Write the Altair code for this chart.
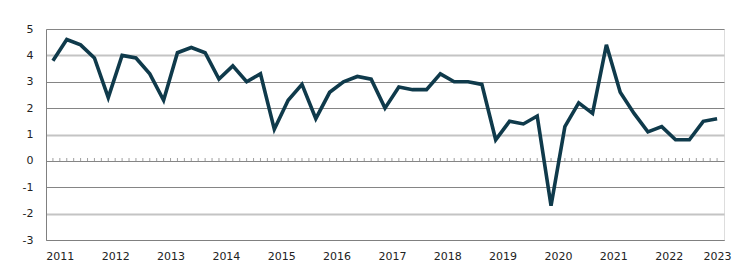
import altair as alt
import pandas as pd

# quarterly values, 2011Q1 .. 2023Q1
first_year = 2011
values = [3.8, 4.6, 4.4, 3.9, 2.4, 4.0, 3.9, 3.3, 2.3, 4.1, 4.3, 4.1,
          3.1, 3.6, 3.0, 3.3, 1.2, 2.3, 2.9, 1.6, 2.6, 3.0, 3.2, 3.1,
          2.0, 2.8, 2.7, 2.7, 3.3, 3.0, 3.0, 2.9, 0.8, 1.5, 1.4, 1.7,
          -1.7, 1.3, 2.2, 1.8, 4.4, 2.6, 1.8, 1.1, 1.3, 0.8, 0.8, 1.5, 1.6]
year_labels = list(range(2011, 2024))
y_ticks = [-3, -2, -1, 0, 1, 2, 3, 4, 5]

n = len(values)
df = pd.DataFrame({"t": list(range(n)), "v": values})
tick_df = pd.DataFrame({"t": [i / 2 for i in range(2 * (n - 1) + 1)]})

x_label_pos = [4 * k + 0.5 for k in range(len(year_labels) - 1)] + [4 * (len(year_labels) - 1)]

FONT = "DejaVu Sans"
LINE = "#0f3a4b"
LIGHT_TEST = "datum.value == 4 || datum.value == 1 || datum.value == -2"

x_scale = alt.Scale(domain=[-0.5, n - 0.5], nice=False, zero=False)
y_scale = alt.Scale(domain=[-3, 5], nice=False)

x_axis = alt.Axis(values=x_label_pos,
                  labelExpr=f"floor(datum.value / 4) + {first_year}",
                  title=None, ticks=False, grid=False,
                  domain=True, domainColor="#808080",
                  labelOverlap=False,
                  labelFont=FONT, labelFontSize=11, labelColor="#222",
                  labelPadding=10)
y_axis = alt.Axis(values=y_ticks, title=None, ticks=False,
                  labelExpr="'' + datum.value",
                  labelOverlap=False,
                  domain=True, domainColor="#808080",
                  grid=True,
                  gridColor={"condition": {"test": LIGHT_TEST, "value": "#c4c4c4"}, "value": "#858585"},
                  gridWidth={"condition": {"test": LIGHT_TEST, "value": 2}, "value": 1},
                  labelFont=FONT, labelFontSize=11, labelColor="#222",
                  labelPadding=13)

line = alt.Chart(df).mark_line(color=LINE, strokeWidth=3.6, strokeJoin="miter", strokeMiterLimit=4).encode(
    x=alt.X("t:Q", scale=x_scale, axis=x_axis),
    y=alt.Y("v:Q", scale=y_scale, axis=y_axis),
)

ticks = alt.Chart(tick_df).mark_tick(orient="vertical", size=3, thickness=1,
                                     color="#777777", yOffset=-1.5).encode(
    x=alt.X("t:Q", scale=x_scale, axis=x_axis),
    y=alt.YDatum(0, scale=y_scale, axis=y_axis),
)

chart = alt.layer(ticks, line).properties(
    width=678, height=211,
    autosize=alt.AutoSizeParams(type="none"),
    padding={"left": 46, "top": 29, "right": 26, "bottom": 37},
).configure_view(stroke="#808080", strokeWidth=1).configure(background="white")

chart.save("out.html", embed_options={"renderer": "svg", "actions": False})
